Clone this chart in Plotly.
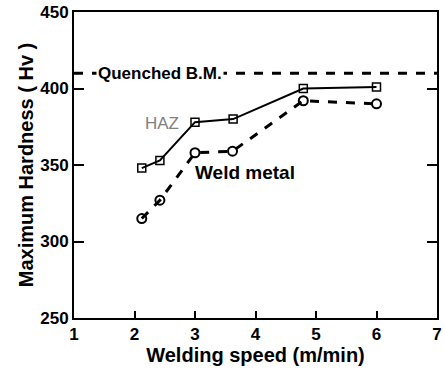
import plotly.graph_objects as go

speed_haz = [2.12, 2.42, 3.0, 3.63, 4.79, 6.0]
hard_haz = [348, 353, 378, 380, 400, 401]
speed_weld = [2.12, 2.42, 3.0, 3.62, 4.79, 6.0]
hard_weld = [315, 327, 358, 359, 392, 390]
quenched_bm = 410
x_ticks = [1, 2, 3, 4, 5, 6, 7]
y_ticks = [250, 300, 350, 400, 450]

FONT = "Liberation Sans"

fig = go.Figure()
fig.add_trace(go.Scatter(
    x=[1, 7], y=[quenched_bm, quenched_bm], mode="lines",
    line=dict(color="black", width=3, dash="dash"), showlegend=False))
fig.add_trace(go.Scatter(
    x=speed_haz, y=hard_haz, mode="lines+markers",
    line=dict(color="black", width=2),
    marker=dict(symbol="square-open", size=8, color="black", line=dict(width=1.5)),
    showlegend=False))
fig.add_trace(go.Scatter(
    x=speed_weld, y=hard_weld, mode="lines+markers",
    line=dict(color="black", width=3, dash="dash"),
    marker=dict(symbol="circle-open", size=9, color="black", line=dict(width=2)),
    showlegend=False))

fig.add_annotation(x=1.37, y=quenched_bm, text="Quenched B.M.", showarrow=False,
                   xanchor="left",
                   font=dict(family=FONT, size=17, color="black", weight="bold"),
                   bgcolor="white", borderpad=1)
fig.add_annotation(x=2.45, y=377, text="HAZ", showarrow=False,
                   font=dict(family=FONT, size=17, color="#808080", weight="normal"))
fig.add_annotation(x=2.97, y=345, text="Weld metal", showarrow=False,
                   xanchor="left",
                   font=dict(family=FONT, size=19, color="black", weight="bold"))

fig.update_layout(
    width=445, height=371,
    margin=dict(l=74, r=8, t=12, b=53),
    plot_bgcolor="white", paper_bgcolor="white",
    font=dict(family=FONT, color="black", weight="bold"),
)
fig.update_xaxes(
    range=[1, 7], tickvals=x_ticks,
    ticks="inside", ticklen=7, tickwidth=2, tickcolor="black",
    showline=True, linecolor="black", linewidth=2, mirror=True,
    showgrid=False, zeroline=False, automargin=False, ticklabeloverflow="allow",
    tickfont=dict(family=FONT, size=17, weight="bold"),
    title=dict(text="Welding speed (m/min)",
               font=dict(family=FONT, size=20, weight="bold"), standoff=1))
fig.update_yaxes(
    range=[250, 450], tickvals=y_ticks,
    ticks="inside", ticklen=10, tickwidth=2, tickcolor="black",
    showline=True, linecolor="black", linewidth=2, mirror="allticks",
    showgrid=False, zeroline=False, automargin=False, ticklabeloverflow="allow",
    tickfont=dict(family=FONT, size=17, weight="bold"),
    title=dict(text="Maximum Hardness ( Hv )",
               font=dict(family=FONT, size=20, weight="bold"), standoff=1))

fig.write_html("out.html", config={"displayModeBar": False},
               post_script="document.body.style.margin='0';document.body.style.overflow='hidden';")
